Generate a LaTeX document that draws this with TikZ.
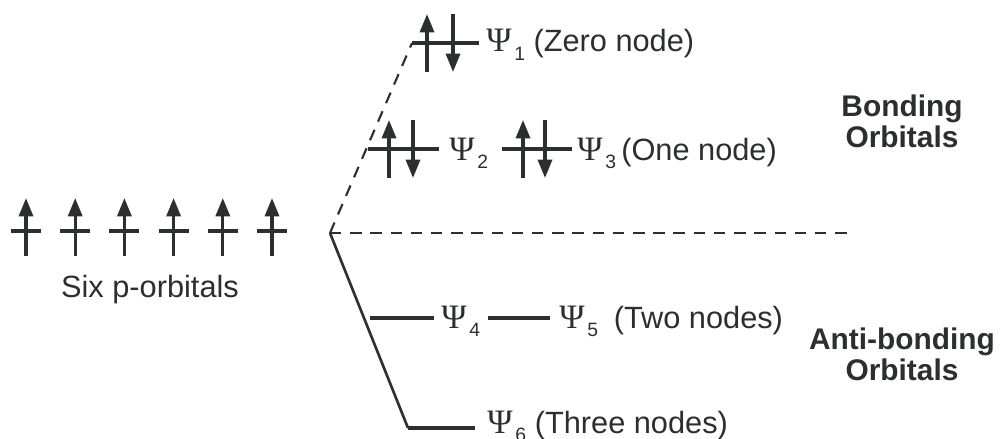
\documentclass[tikz,border=0pt]{standalone}
\usepackage{fontspec}
\setmainfont{Liberation Sans}
\newfontfamily\psifont{Liberation Serif}
\usetikzlibrary{arrows.meta,positioning}
\definecolor{ink}{RGB}{45,46,50}
\newcommand{\orb}[1]{{\psifont\fontsize{19.5}{20}\selectfont Ψ}\kern1.5pt\raisebox{-5pt}{\fontsize{11}{11}\selectfont #1}}
\tikzset{
  level/.style={draw=ink,line width=1.9pt},
  spin/.style={draw=ink,line width=1.9pt,-{Triangle[length=10.5pt,width=8pt]}},
  corr/.style={draw=ink,line width=1.2pt,dash pattern=on 6.5pt off 5pt},
  slope/.style={draw=ink,line width=1.5pt},
  mo/.style={anchor=base west,inner sep=0pt,text=ink},
  side/.style={anchor=north,align=center,inner sep=0pt,text=ink,
               font=\fontsize{17}{17.2}\selectfont\bfseries},
}

\begin{document}
\begin{tikzpicture}[x=0.02cm,y=-0.02cm,font=\fontsize{17.5}{20}\selectfont]
  \useasboundingbox (0,0) rectangle (1000,439);
  % --- six p-orbitals, one electron each
  \foreach \i in {0,...,5}{
    \draw[level] (26+49.2*\i-15,231) -- ++(30,0);
    \draw[spin] (26+49.2*\i,256) -- ++(0,-58);}
  \node[anchor=base,inner sep=0pt,text=ink] (six) at (150,297) {Six p-orbitals};
  % --- correlation lines
  \coordinate (ctr) at (330,233);
  \coordinate (mid) at (849,233);
  \coordinate (L1) at (412,43);  \coordinate (L1e) at (479,43);
  \coordinate (L2) at (368,149); \coordinate (L2e) at (439,149);
  \coordinate (L3) at (502,149); \coordinate (L3e) at (572,149);
  \coordinate (L4) at (370,318); \coordinate (L4e) at (434,318);
  \coordinate (L5) at (488,318); \coordinate (L5e) at (550,318);
  \coordinate (L6) at (408,428); \coordinate (L6e) at (475,428);
  \draw[corr] (ctr) -- (L1);
  \draw[corr] (ctr) -- (mid);
  \draw[slope] (ctr) -- (L6);
  % --- levels
  \foreach \a/\b in {L1/L1e,L2/L2e,L3/L3e,L4/L4e,L5/L5e,L6/L6e}
    \draw[level] (\a) -- (\b);
  % --- paired electrons in the bonding levels
  \foreach \u/\d/\y in {427/453/43,389/413/149,523/545/149}{
    \draw[spin] (\u,\y+29) -- (\u,\y-29);
    \draw[spin] (\d,\y-29) -- (\d,\y+29);}
  % --- labels
  \node[mo] (psi1) at (486,52)  {\orb{1} (Zero node)};
  \node[mo] (psi2) at (449,160) {\orb{2}};
  \node[mo] (psi3) at (577,160) {\orb{3}\kern3pt(One node)};
  \node[mo] (psi4) at (441,328) {\orb{4}};
  \node[mo] (psi5) at (559,328) {\orb{5}\kern9pt(Two nodes)};
  \node[mo] (psi6) at (487,433) {\orb{6}\kern5pt(Three nodes)};
  \node[side] (bond) at (902,95) {Bonding\\Orbitals};
  \node[side] (anti) at (902,328) {Anti-bonding\\Orbitals};
\end{tikzpicture}
\end{document}
